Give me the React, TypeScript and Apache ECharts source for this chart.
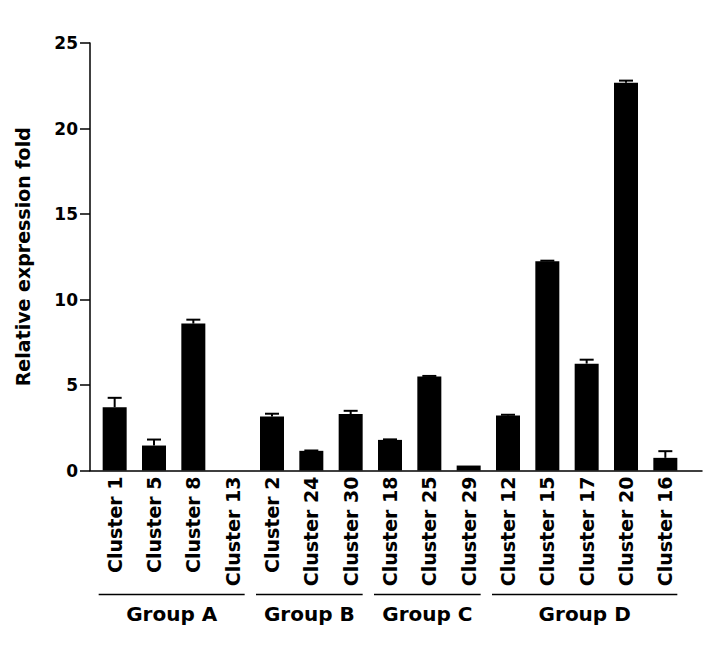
import React, { useEffect, useRef } from "react";
import * as echarts from "echarts";

const categories = [
  "Cluster 1", "Cluster 5", "Cluster 8", "Cluster 13",
  "Cluster 2", "Cluster 24", "Cluster 30",
  "Cluster 18", "Cluster 25", "Cluster 29",
  "Cluster 12", "Cluster 15", "Cluster 17", "Cluster 20", "Cluster 16",
];
const values = [3.7, 1.46, 8.59, 0, 3.16, 1.15, 3.3, 1.79, 5.5, 0.29, 3.22, 12.24, 6.25, 22.68, 0.74];
const errors = [0.55, 0.35, 0.23, 0, 0.16, 0.02, 0.19, 0.03, 0.03, 0, 0.04, 0.03, 0.23, 0.12, 0.39];
const groupNames = ["Group A", "Group B", "Group C", "Group D"];
const groupStart = [0, 4, 7, 10];
const groupEnd = [3, 6, 9, 14];
const yTicks = [0, 5, 10, 15, 20, 25];

const FONT = "DejaVu Sans";

export default function App() {
  const ref = useRef<HTMLDivElement>(null);
  useEffect(() => {
    if (!ref.current) return;
    const chart = echarts.init(ref.current, null, { renderer: "svg" });
    const top = 43;
    const bottom = 175.5;
    chart.setOption({
      animation: false,
      backgroundColor: "#ffffff",
      grid: [
        { left: 95, right: 31, top, bottom, containLabel: false },
        { left: 90, right: 14, top, bottom, containLabel: false },
      ],
      xAxis: [
        {
          type: "category",
          gridIndex: 0,
          data: categories,
          axisLine: { show: false },
          axisTick: { show: false },
          axisLabel: {
            rotate: 90,
            interval: 0,
            margin: 6,
            color: "#000",
            fontFamily: FONT,
            fontWeight: "bold",
            fontSize: 19,
          },
        },
        {
          type: "value",
          gridIndex: 1,
          min: 0,
          max: 1,
          axisLine: { show: true, lineStyle: { color: "#000", width: 1.5 } },
          axisTick: { show: false },
          axisLabel: { show: false },
          splitLine: { show: false },
        },
      ],
      yAxis: [
        {
          type: "value",
          gridIndex: 0,
          min: yTicks[0],
          max: yTicks[yTicks.length - 1],
          interval: 5,
          offset: 5,
          name: "Relative expression fold",
          nameLocation: "middle",
          nameGap: 58,
          nameRotate: 90,
          nameTextStyle: {
            color: "#000",
            fontFamily: FONT,
            fontWeight: "bold",
            fontSize: 19,
          },
          axisLine: { show: true, lineStyle: { color: "#000", width: 1.5 } },
          axisTick: { show: true, length: 10, lineStyle: { color: "#000", width: 1.5 } },
          axisLabel: {
            margin: 12,
            color: "#000",
            fontFamily: FONT,
            fontWeight: "bold",
            fontSize: 17,
          },
          splitLine: { show: false },
        },
        {
          type: "value",
          gridIndex: 1,
          min: 0,
          max: 1,
          show: false,
        },
      ],
      series: [
        {
          type: "bar",
          xAxisIndex: 0,
          yAxisIndex: 0,
          data: values,
          barWidth: 24,
          itemStyle: { color: "#000" },
        },
        {
          type: "custom",
          xAxisIndex: 0,
          yAxisIndex: 0,
          data: values.map((v, i) => [i, v, errors[i]]),
          encode: { x: 0, y: 1 },
          z: 5,
          renderItem: (params: any, api: any) => {
            const err = api.value(2);
            if (!err) return null;
            const base = api.coord([api.value(0), api.value(1)]);
            const tip = api.coord([api.value(0), api.value(1) + err]);
            const half = 7;
            const style = { stroke: "#000", lineWidth: 2 };
            return {
              type: "group",
              children: [
                { type: "line", shape: { x1: base[0], y1: base[1], x2: tip[0], y2: tip[1] }, style },
                { type: "line", shape: { x1: tip[0] - half, y1: tip[1], x2: tip[0] + half, y2: tip[1] }, style },
              ],
            };
          },
        },
        {
          type: "custom",
          xAxisIndex: 0,
          yAxisIndex: 0,
          clip: false,
          data: groupStart.map((s, i) => [s, groupEnd[i], 0]),
          encode: { x: [0, 1], y: 2 },
          renderItem: (params: any, api: any) => {
            const a = api.coord([api.value(0), 0]);
            const b = api.coord([api.value(1), 0]);
            const y = a[1] + 124;
            const x1 = a[0] - 16;
            const x2 = b[0] + 12;
            return {
              type: "group",
              children: [
                { type: "line", shape: { x1, y1: y, x2, y2: y }, style: { stroke: "#000", lineWidth: 1.5 } },
                {
                  type: "text",
                  x: (x1 + x2) / 2,
                  y: y + 19,
                  style: {
                    text: groupNames[params.dataIndex],
                    fill: "#000",
                    font: `bold 20px "${FONT}"`,
                    align: "center",
                    verticalAlign: "middle",
                  },
                },
              ],
            };
          },
        },
      ],
    });
    return () => chart.dispose();
  }, []);
  return (
    <div
      ref={ref}
      style={{ position: "absolute", left: 0, top: 0, width: 716, height: 646 }}
    />
  );
}
